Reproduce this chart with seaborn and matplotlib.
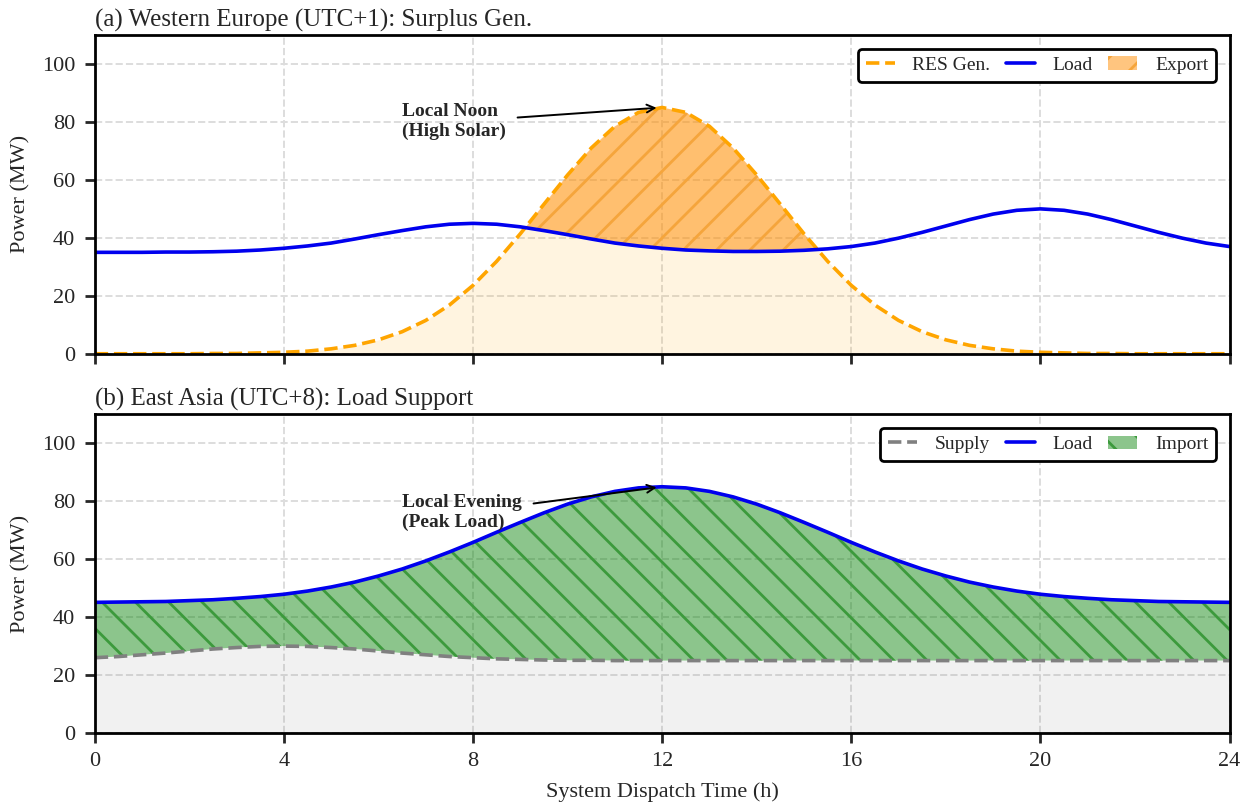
import numpy as np
import pandas as pd
import matplotlib
matplotlib.use("Agg")
import matplotlib.pyplot as plt
import seaborn as sns
from matplotlib.patches import Patch
from matplotlib.lines import Line2D

# half-hour steps, values
hours = [i * 0.5 for i in range(49)]

res_gen_eu = [0.0, 0.0, 0.0, 0.0, 0.0, 0.1, 0.1, 0.3, 0.5, 0.9,
              1.7, 2.9, 4.8, 7.6, 11.5, 16.8, 23.6, 31.9, 41.4, 51.6,
              61.7, 71.0, 78.5, 83.3, 85.0, 83.3, 78.5, 71.0, 61.7, 51.6,
              41.4, 31.9, 23.6, 16.8, 11.5, 7.6, 4.8, 2.9, 1.7, 0.9,
              0.5, 0.3, 0.1, 0.1, 0.0, 0.0, 0.0, 0.0, 0.0]
load_eu = [35.0, 35.0, 35.0, 35.1, 35.1, 35.2, 35.4, 35.8, 36.4, 37.2,
           38.2, 39.6, 41.1, 42.5, 43.8, 44.7, 45.0, 44.7, 43.8, 42.5,
           41.1, 39.6, 38.2, 37.2, 36.4, 35.8, 35.5, 35.3, 35.3, 35.4,
           35.7, 36.2, 37.0, 38.2, 39.9, 41.9, 44.1, 46.3, 48.2, 49.5,
           50.0, 49.5, 48.2, 46.3, 44.1, 41.9, 39.9, 38.2, 37.0]

load_asia = [45.1, 45.2, 45.3, 45.4, 45.7, 46.0, 46.5, 47.1, 47.9, 49.0,
             50.4, 52.1, 54.2, 56.6, 59.4, 62.5, 65.8, 69.3, 72.7, 76.0,
             79.0, 81.5, 83.4, 84.6, 85.0, 84.6, 83.4, 81.5, 79.0, 76.0,
             72.7, 69.3, 65.8, 62.5, 59.4, 56.6, 54.2, 52.1, 50.4, 49.0,
             47.9, 47.1, 46.5, 46.0, 45.7, 45.4, 45.3, 45.2, 45.1]
supply_asia = [26.0, 26.4, 27.0, 27.6, 28.3, 29.0, 29.5, 29.9, 30.0, 29.9,
               29.5, 29.0, 28.3, 27.6, 27.0, 26.4, 26.0, 25.6, 25.4, 25.2,
               25.1, 25.1, 25.0, 25.0, 25.0, 25.0, 25.0, 25.0, 25.0, 25.0,
               25.0, 25.0, 25.0, 25.0, 25.0, 25.0, 25.0, 25.0, 25.0, 25.0,
               25.0, 25.0, 25.0, 25.0, 25.0, 25.0, 25.0, 25.0, 25.0]

x_ticks = [0, 4, 8, 12, 16, 20, 24]
y_ticks = [0, 20, 40, 60, 80, 100]

sns.set_style("ticks")
plt.rcParams["font.family"] = ["Liberation Serif", "DejaVu Serif"]
plt.rcParams["font.size"] = 8
plt.rcParams["hatch.linewidth"] = 1.0
plt.rcParams["axes.linewidth"] = 1.0
plt.rcParams["xtick.major.width"] = 1.0
plt.rcParams["ytick.major.width"] = 1.0

df_eu = pd.DataFrame({"t": hours, "res": res_gen_eu, "load": load_eu})
df_as = pd.DataFrame({"t": hours, "supply": supply_asia, "load": load_asia})

fig, (ax1, ax2) = plt.subplots(2, 1, figsize=(6.235, 4.025), dpi=200, sharex=True)
fig.subplots_adjust(left=0.076, right=0.986, top=0.9565, bottom=0.0894, hspace=0.19)

export_face = (1.0, 0.55, 0.0, 0.5)
import_face = (0.0, 0.5, 0.0, 0.45)
leg_kw = dict(loc="upper right", ncol=3, fontsize=7, frameon=True, framealpha=1,
              edgecolor="black", fancybox=True, borderpad=0.4, columnspacing=0.8,
              handlelength=1.5, handletextpad=0.9, borderaxespad=0.7)

# ---- (a) Western Europe
t = df_eu["t"].to_numpy()
res = df_eu["res"].to_numpy()
ld = df_eu["load"].to_numpy()
ax1.fill_between(t, 0, res, color="orange", alpha=0.12, linewidth=0)
ax1.fill_between(t, ld, res, where=res > ld, interpolate=True,
                 facecolor=export_face, edgecolor="#F5A53C",
                 hatch="//", linewidth=0)
sns.lineplot(data=df_eu, x="t", y="res", ax=ax1, color="orange",
             linestyle="--", linewidth=1.3)
sns.lineplot(data=df_eu, x="t", y="load", ax=ax1, color="#0000EE", linewidth=1.3)
ax1.annotate("Local Noon\n(High Solar)", xy=(12, 85), xytext=(6.5, 80),
             ha="left", va="center", fontsize=7, fontweight="bold",
             arrowprops=dict(arrowstyle="->", color="black", lw=0.7))
ax1.set_title("(a) Western Europe (UTC+1): Surplus Gen.", loc="left", fontsize=9, pad=3)
h1 = [Line2D([], [], color="orange", linestyle="--", linewidth=1.3),
      Line2D([], [], color="#0000EE", linewidth=1.3),
      Patch(facecolor=export_face, edgecolor="#F5A53C", hatch="//", linewidth=0)]
leg1 = ax1.legend(h1, ["RES Gen.", "Load", "Export"], **leg_kw)
leg1.get_frame().set_linewidth(1.0)

# ---- (b) East Asia
t2 = df_as["t"].to_numpy()
sp = df_as["supply"].to_numpy()
ld2 = df_as["load"].to_numpy()
ax2.fill_between(t2, 0, sp, color="gray", alpha=0.11, linewidth=0)
ax2.fill_between(t2, sp, ld2, facecolor=import_face, edgecolor="#3C9A3C",
                 hatch="\\\\", linewidth=0)
sns.lineplot(data=df_as, x="t", y="supply", ax=ax2, color="gray",
             linestyle="--", linewidth=1.3)
sns.lineplot(data=df_as, x="t", y="load", ax=ax2, color="#0000EE", linewidth=1.3)
ax2.annotate("Local Evening\n(Peak Load)", xy=(12, 85), xytext=(6.5, 76),
             ha="left", va="center", fontsize=7, fontweight="bold",
             arrowprops=dict(arrowstyle="->", color="black", lw=0.7))
ax2.set_title("(b) East Asia (UTC+8): Load Support", loc="left", fontsize=9, pad=3)
h2 = [Line2D([], [], color="gray", linestyle="--", linewidth=1.3),
      Line2D([], [], color="#0000EE", linewidth=1.3),
      Patch(facecolor=import_face, edgecolor="#3C9A3C", hatch="\\\\", linewidth=0)]
leg2 = ax2.legend(h2, ["Supply", "Load", "Import"], **leg_kw)
leg2.get_frame().set_linewidth(1.0)

for ax in (ax1, ax2):
    ax.set_xlim(0, 24)
    ax.set_ylim(0, 110)
    ax.set_xticks(x_ticks)
    ax.set_yticks(y_ticks)
    ax.set_ylabel("Power (MW)", fontsize=8)
    ax.set_xlabel("")
    ax.grid(True, linestyle="--", color="#DDDDDD", linewidth=0.7)
    ax.set_axisbelow(True)
    ax.tick_params(labelsize=8, length=3.5)
    for s in ax.spines.values():
        s.set_visible(True)
        s.set_color("black")

ax2.set_xlabel("System Dispatch Time (h)", fontsize=8)

fig.savefig("out.png", dpi=200)
